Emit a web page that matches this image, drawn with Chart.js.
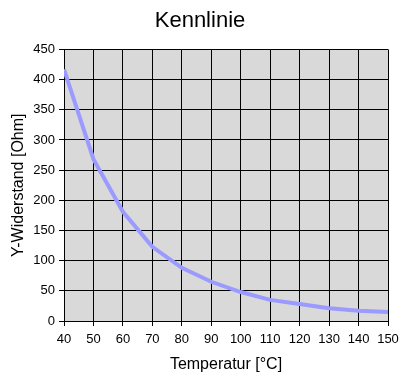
<!DOCTYPE html>
<html>
<head>
<meta charset="utf-8">
<script src="https://cdn.jsdelivr.net/npm/chart.js@4"></script>
<style>
  html, body { margin: 0; padding: 0; background: #fff; }
  #wrap { width: 400px; height: 374px; }
</style>
</head>
<body>
<div id="wrap"><canvas id="chart" width="400" height="374"></canvas></div>
<script>
// Temperatur [°C]
const temperatures = [40, 50, 60, 70, 80, 90, 100, 110, 120, 130, 140, 150];
// Widerstand [Ohm]
const resistance = [417, 268, 181, 123, 88, 65, 48, 35, 28, 21, 17, 15];

const xTicks = [40, 50, 60, 70, 80, 90, 100, 110, 120, 130, 140, 150];
const yTicks = [0, 50, 100, 150, 200, 250, 300, 350, 400, 450];

// grauer Hintergrund im Diagrammbereich
const plotBg = {
    id: 'plotBg',
    beforeDraw(chart) {
        const { ctx, chartArea: a } = chart;
        ctx.save();
        ctx.fillStyle = '#d9d9d9';
        ctx.fillRect(a.left, a.top, a.right - a.left, a.bottom - a.top);
        ctx.restore();
    }
};

const font = "'Liberation Sans', Arial, sans-serif";

new Chart(document.getElementById('chart'), {
    type: 'line',
    data: {
        datasets: [{
            data: temperatures.map((t, i) => ({ x: t, y: resistance[i] })),
            borderColor: '#9a9aff',
            borderWidth: 4,
            pointRadius: 0,
            tension: 0,
            fill: false
        }]
    },
    options: {
        responsive: false,
        animation: false,
        layout: { padding: { left: 9, right: 9, top: 0, bottom: 0 } },
        plugins: {
            legend: { display: false },
            tooltip: { enabled: false },
            title: {
                display: true,
                text: 'Kennlinie',
                color: '#000',
                font: { family: font, size: 22, weight: 'normal' },
                padding: { top: 8, bottom: 15 }
            }
        },
        scales: {
            x: {
                type: 'linear',
                min: 40,
                max: 150,
                afterBuildTicks: s => { s.ticks = xTicks.map(v => ({ value: v })); },
                afterFit: s => {
                    s.height = 53;
                    s.paddingLeft = 0;
                    s.paddingRight = 12;
                },
                ticks: {
                    color: '#000',
                    font: { family: font, size: 13 },
                    padding: 6,
                    maxRotation: 0,
                    autoSkip: false
                },
                grid: { color: '#000', lineWidth: 1, tickLength: 5, drawTicks: true },
                border: { color: '#000' },
                title: {
                    display: true,
                    text: 'Temperatur [°C]',
                    color: '#000',
                    font: { family: font, size: 16 },
                    padding: { top: 4, bottom: 0 }
                }
            },
            y: {
                min: 0,
                max: 450,
                afterBuildTicks: s => { s.ticks = yTicks.map(v => ({ value: v })); },
                afterFit: s => { s.width = 55; },
                ticks: {
                    color: '#000',
                    font: { family: font, size: 13 },
                    padding: 4
                },
                grid: { color: '#000', lineWidth: 1, tickLength: 5 },
                border: { color: '#000' },
                title: {
                    display: true,
                    text: 'Y-Widerstand [Ohm]',
                    color: '#000',
                    font: { family: font, size: 16 },
                    padding: { top: 0, bottom: 4 }
                }
            }
        }
    },
    plugins: [plotBg]
});
</script>
</body>
</html>
